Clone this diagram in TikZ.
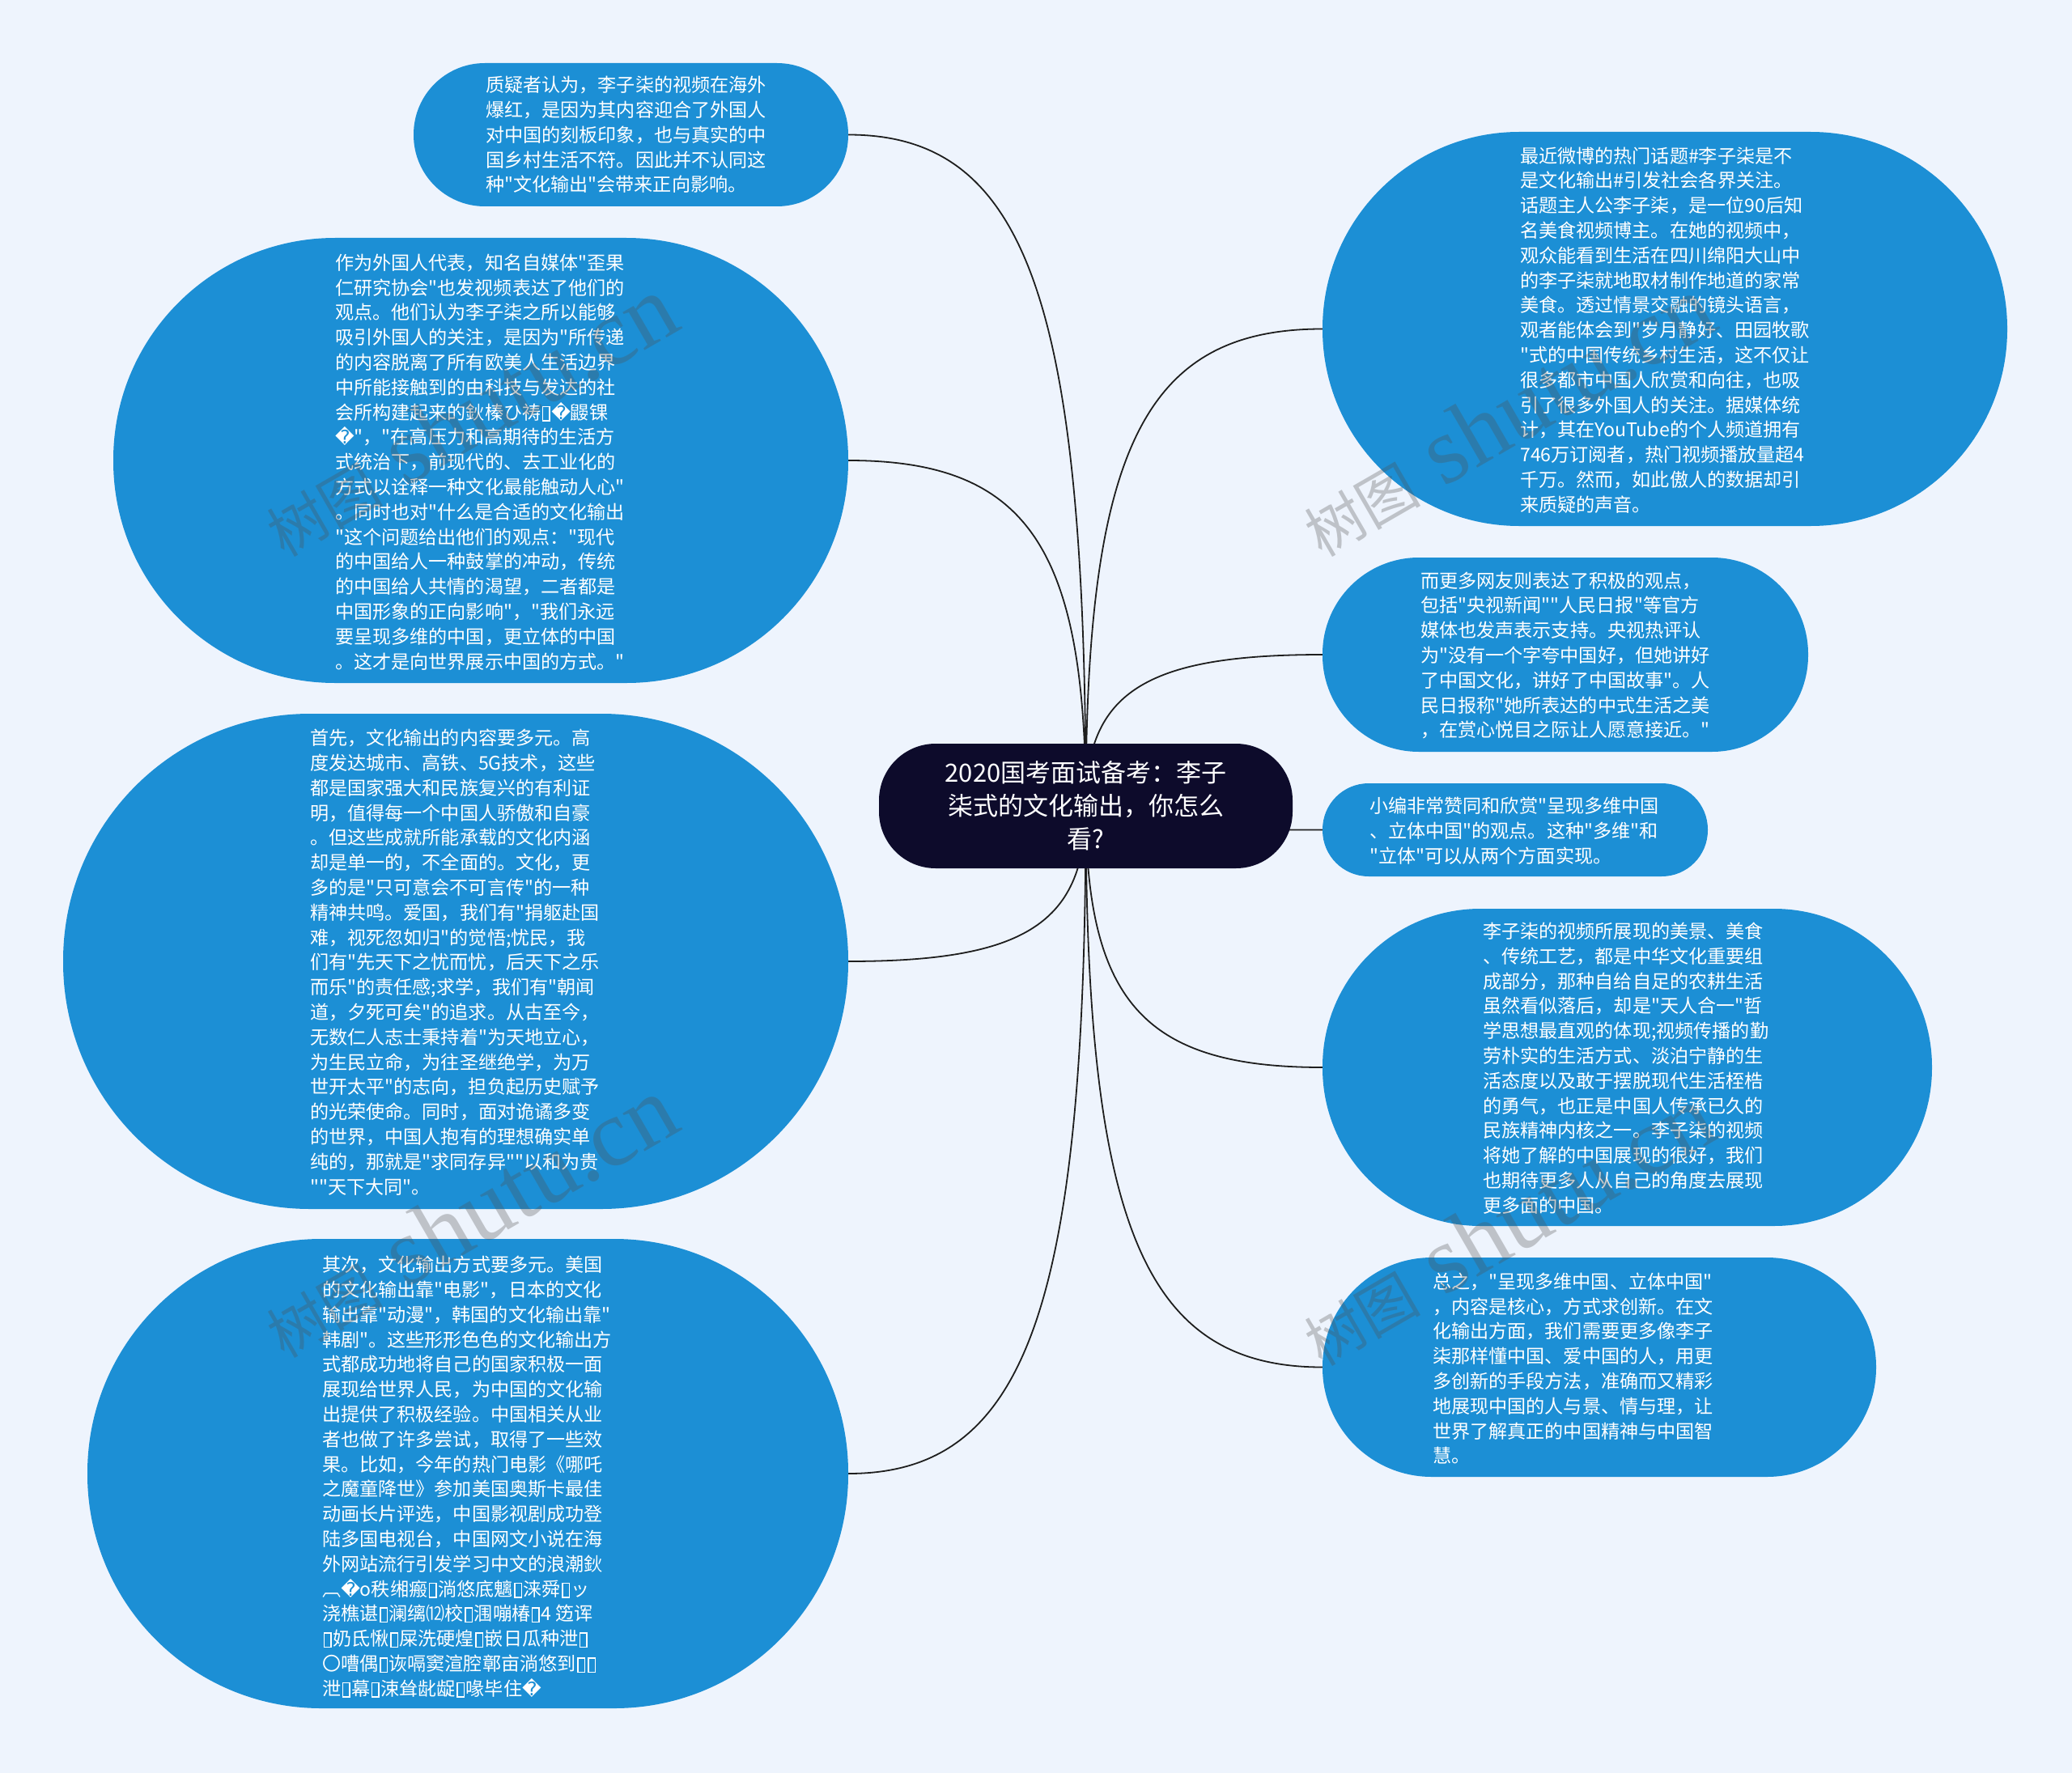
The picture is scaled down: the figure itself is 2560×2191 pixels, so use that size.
\documentclass[tikz,border=0pt]{standalone}
\usepackage{fontspec}
\setmainfont{Noto Sans CJK SC}[Ligatures=TeXOff]
\newfontfamily\dejavu{DejaVu Sans}
\newfontfamily\wmlatin{Liberation Serif}[Ligatures=TeXOff]
\usetikzlibrary{calc}
\definecolor{bgcol}{RGB}{238,244,253}
\definecolor{nodeblue}{RGB}{28,143,213}
\definecolor{navy}{RGB}{13,11,43}
\definecolor{linecol}{RGB}{30,30,30}
\definecolor{wmcol}{RGB}{80,80,80}
\newcommand{\repl}{{\dejavu\char"FFFD}}
\newcommand{\tofu}{\kern1.5pt{\setlength{\fboxsep}{0pt}\setlength{\fboxrule}{1.5pt}\raisebox{-1pt}{\fbox{\rule{0pt}{16pt}\rule{7pt}{0pt}}}}\kern1.5pt}
\newcommand{\linkto}[2]{\draw[conn] (#1.center) .. controls ($(#1.center)!0.75!(#1.center|-#2)$) and ($(#2)!0.75!(#1.center|-#2)$) .. (#2);}
\newcommand{\wmtext}{{\fontsize{72}{80}\selectfont 树图}\hspace{30pt}{\wmlatin\fontsize{118}{120}\selectfont shutu.cn}}
\pgfdeclarelayer{bglayer}
\pgfdeclarelayer{edgelayer}
\pgfsetlayers{bglayer,edgelayer,main}
\tikzset{
  blob/.style={fill=nodeblue, inner sep=0pt},
  txt/.style={text=white, align=left, anchor=west, inner sep=0pt, font=\fontsize{23.1}{30.8}\selectfont},
  centerbox/.style={fill=navy, text=white, align=center, inner sep=0pt, minimum width=511pt, minimum height=154pt, rounded corners=70pt, font=\fontsize{31}{41}\selectfont},
  conn/.style={draw=linecol, line width=1.8pt},
  wm/.style={text=wmcol, opacity=0.3, inner sep=0pt, anchor=base west, rotate=30}
}
\begin{document}
\begin{tikzpicture}[x=1pt,y=-1pt]
\begin{pgfonlayer}{bglayer}
\fill[bgcol] (0,0) rectangle (2560,2191);
\end{pgfonlayer}
\useasboundingbox (0,0) rectangle (2560,2191);

% center
\node[centerbox] (c) at (1341.5,996) {2020国考面试备考：李子\\柒式的文化输出，你怎么\\看?};

% left nodes
\node[blob, minimum width=537pt, minimum height=177pt, rounded corners=88pt] (n1) at (779.5,166.5) {};
\node[txt] (t1) at (600,166.5) {质疑者认为，李子柒的视频在海外\\爆红，是因为其内容迎合了外国人\\对中国的刻板印象，也与真实的中\\国乡村生活不符。因此并不认同这\\种"文化输出"会带来正向影响。};

\node[blob, minimum width=908pt, minimum height=550pt, rounded corners=274pt] (n2) at (594,569) {};
\node[txt] (t2) at (414,571) {作为外国人代表，知名自媒体"歪果\\仁研究协会"也发视频表达了他们的\\观点。他们认为李子柒之所以能够\\吸引外国人的关注，是因为"所传递\\的内容脱离了所有欧美人生活边界\\中所能接触到的由科技与发达的社\\会所构建起来的鈥榛ひ祷\tofu\repl 鼹锞\\\repl"，"在高压力和高期待的生活方\\式统治下，前现代的、去工业化的\\方式以诠释一种文化最能触动人心"\\。同时也对"什么是合适的文化输出\\"这个问题给出他们的观点："现代\\的中国给人一种鼓掌的冲动，传统\\的中国给人共情的渴望，二者都是\\中国形象的正向影响"，"我们永远\\要呈现多维的中国，更立体的中国\\。这才是向世界展示中国的方式。"};

\node[blob, minimum width=970pt, minimum height=612pt, rounded corners=305pt] (n3) at (563,1188) {};
\node[txt] (t3) at (383,1189) {首先，文化输出的内容要多元。高\\度发达城市、高铁、5G技术，这些\\都是国家强大和民族复兴的有利证\\明，值得每一个中国人骄傲和自豪\\。但这些成就所能承载的文化内涵\\却是单一的，不全面的。文化，更\\多的是"只可意会不可言传"的一种\\精神共鸣。爱国，我们有"捐躯赴国\\难，视死忽如归"的觉悟;忧民，我\\们有"先天下之忧而忧，后天下之乐\\而乐"的责任感;求学，我们有"朝闻\\道，夕死可矣"的追求。从古至今，\\无数仁人志士秉持着"为天地立心，\\为生民立命，为往圣继绝学，为万\\世开太平"的志向，担负起历史赋予\\的光荣使命。同时，面对诡谲多变\\的世界，中国人抱有的理想确实单\\纯的，那就是"求同存异""以和为贵\\""天下大同"。};

\node[blob, minimum width=940pt, minimum height=580pt, rounded corners=289pt] (n4) at (578,1821) {};
\node[txt] (t4) at (398,1825) {其次，文化输出方式要多元。美国\\的文化输出靠"电影"，日本的文化\\输出靠"动漫"，韩国的文化输出靠"\\韩剧"。这些形形色色的文化输出方\\式都成功地将自己的国家积极一面\\展现给世界人民，为中国的文化输\\出提供了积极经验。中国相关从业\\者也做了许多尝试，取得了一些效\\果。比如，今年的热门电影《哪吒\\之魔童降世》参加美国奥斯卡最佳\\动画长片评选，中国影视剧成功登\\陆多国电视台，中国网文小说在海\\外网站流行引发学习中文的浪潮鈥\\︹\repl o秩缃瘢\tofu 淌悠底魑\tofu 涞舜\tofu ッ\\浇樵谌\tofu 澜缡⑿校\tofu 涠嘣椿\tofu 4 笾诨\\\tofu 奶氐愀\tofu 屎洗硬煌\tofu 嵌日瓜种泄\tofu\\〇嘈偶\tofu 诙嗝窦渲腔鄣亩淌悠到\tofu\tofu\\泄\tofu 幕\tofu 涑耸龀龊\tofu 喙毕住\repl};

% right nodes
\node[blob, minimum width=846pt, minimum height=487pt, rounded corners=243pt] (n5) at (2057,406.5) {};
\node[txt] (t5) at (1878,408) {最近微博的热门话题\#李子柒是不\\是文化输出\#引发社会各界关注。\\话题主人公李子柒，是一位90后知\\名美食视频博主。在她的视频中，\\观众能看到生活在四川绵阳大山中\\的李子柒就地取材制作地道的家常\\美食。透过情景交融的镜头语言，\\观者能体会到"岁月静好、田园牧歌\\"式的中国传统乡村生活，这不仅让\\很多都市中国人欣赏和向往，也吸\\引了很多外国人的关注。据媒体统\\计，其在YouTube的个人频道拥有\\746万订阅者，热门视频播放量超4\\千万。然而，如此傲人的数据却引\\来质疑的声音。};

\node[blob, minimum width=600pt, minimum height=240pt, rounded corners=119pt] (n6) at (1934,809) {};
\node[txt] (t6) at (1755,810) {而更多网友则表达了积极的观点，\\包括"央视新闻""人民日报"等官方\\媒体也发声表示支持。央视热评认\\为"没有一个字夸中国好，但她讲好\\了中国文化，讲好了中国故事"。人\\民日报称"她所表达的中式生活之美\\，在赏心悦目之际让人愿意接近。"};

\node[blob, minimum width=476pt, minimum height=115pt, rounded corners=57pt] (n7) at (1872,1025.5) {};
\node[txt] (t7) at (1692,1027) {小编非常赞同和欣赏"呈现多维中国\\、立体中国"的观点。这种"多维"和\\"立体"可以从两个方面实现。};

\node[blob, minimum width=753pt, minimum height=392pt, rounded corners=195pt] (n8) at (2010.5,1319) {};
\node[txt] (t8) at (1832,1320) {李子柒的视频所展现的美景、美食\\、传统工艺，都是中华文化重要组\\成部分，那种自给自足的农耕生活\\虽然看似落后，却是"天人合一"哲\\学思想最直观的体现;视频传播的勤\\劳朴实的生活方式、淡泊宁静的生\\活态度以及敢于摆脱现代生活桎梏\\的勇气，也正是中国人传承已久的\\民族精神内核之一。李子柒的视频\\将她了解的中国展现的很好，我们\\也期待更多人从自己的角度去展现\\更多面的中国。};

\node[blob, minimum width=684pt, minimum height=271pt, rounded corners=135pt] (n9) at (1976,1689.5) {};
\node[txt] (t9) at (1770,1691) {总之，"呈现多维中国、立体中国"\\，内容是核心，方式求创新。在文\\化输出方面，我们需要更多像李子\\柒那样懂中国、爱中国的人，用更\\多创新的手段方法，准确而又精彩\\地展现中国的人与景、情与理，让\\世界了解真正的中国精神与中国智\\慧。};

% connectors
\begin{pgfonlayer}{edgelayer}
\linkto{c}{n1.east}
\linkto{c}{n2.east}
\linkto{c}{n3.east}
\linkto{c}{n4.east}
\linkto{c}{n5.west}
\linkto{c}{n6.west}
\linkto{c}{n7.west}
\linkto{c}{n8.west}
\linkto{c}{n9.west}
\end{pgfonlayer}

% watermarks
\node[wm] (w1) at (351,690) {\wmtext};
\node[wm] (w2) at (351,1680) {\wmtext};
\node[wm] (w3) at (1633,690) {\wmtext};
\node[wm] (w4) at (1633,1690) {\wmtext};
\end{tikzpicture}
\end{document}
